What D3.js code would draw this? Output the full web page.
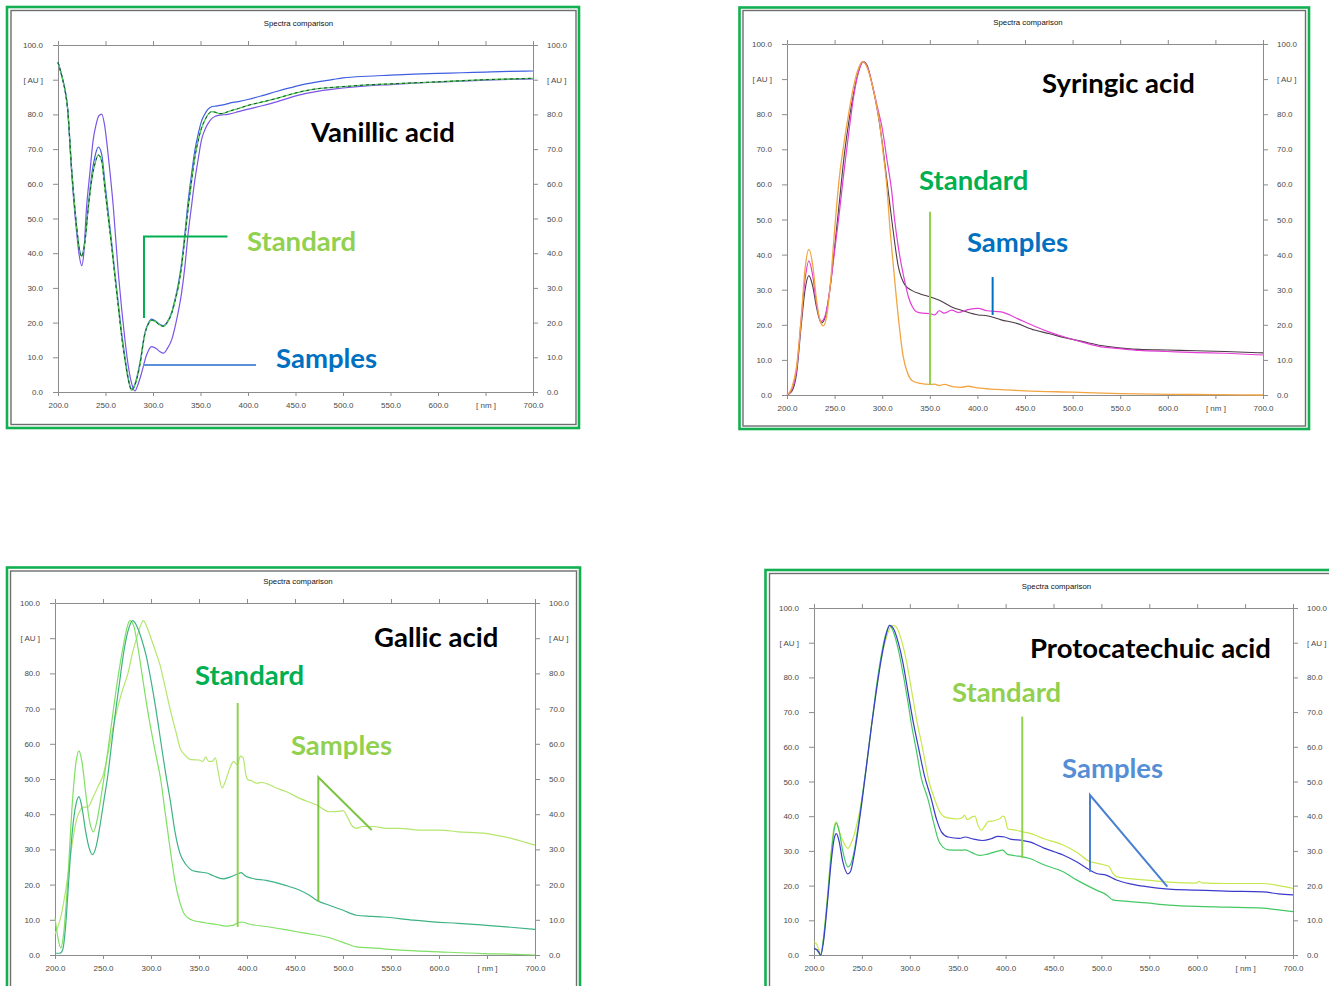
<!DOCTYPE html>
<html><head><meta charset="utf-8">
<script src="https://cdn.jsdelivr.net/npm/d3@7"></script>
<style>
html,body{margin:0;padding:0;background:#fff;overflow:hidden;}
svg{display:block;}
</style></head><body>
<svg id="chart" width="1329" height="986"></svg>
<script>
// ---------- shared tick labels ----------
const xTickValues = [200,250,300,350,400,450,500,550,600,650,700];
const yTickValues = [0,10,20,30,40,50,60,70,80,90,100];
const xUnitTick = 650, xUnitLabel = "[ nm ]";
const yUnitTick = 90,  yUnitLabel = "[ AU ]";
const chartTitle = "Spectra comparison";

// ---------- Vanillic acid ----------
const vanillicStandard = [[200,95],[205,90],[207.4,87],[210,82],[214.4,64],[219.6,47.6],[222,42],[225,39],[228,42.5],[232,53.4],[236,62],[239,65.9],[242.5,68.3],[246,66.5],[249.5,58.2],[253,50],[256.5,41.8],[260,33],[263.5,24.5],[267,16],[270.5,9.2],[274,3.5],[277.5,0.5],[281,2],[286,7.5],[291.6,16.9],[295,19.5],[298.6,20.7],[303,20.2],[307,19.3],[311,18.9],[315,20],[319.7,22.7],[323,26],[326.6,30.3],[330,36],[333.7,44.7],[337,53],[340.7,61],[344,67.5],[347.7,72.6],[351,76],[354.7,78.4],[358,80],[361.8,80.8],[366,80.6],[370,80.2],[375,80.4],[380,80.9],[390,81.7],[400,82.6],[415,83.6],[430,84.6],[445,85.8],[460,86.8],[476,87.5],[490,87.8],[500,88],[525,88.5],[550,88.8],[575,89.1],[600,89.4],[625,89.7],[650,90],[675,90.2],[700,90.4]];
const vanillicSampleBlue = [[200,95],[205,90],[207.4,87],[210,82],[214.4,64],[219.6,47.6],[222,42],[225,39.3],[228,43],[232,54],[236,63.5],[239,68],[242.5,70.6],[246,68.5],[249.5,60],[253,51.5],[256.5,43],[260,34],[263.5,25.5],[267,17],[270.5,10],[274,4],[277.5,0.8],[281,2.3],[286,8],[291.6,17.2],[295,19.8],[298.6,21],[303,20.4],[307,19.5],[311,19.1],[315,20.2],[319.7,23],[323,26.5],[326.6,31],[330,37],[333.7,46],[337,55],[340.7,63],[344,69.5],[347.7,74.5],[351,78],[354.7,80.2],[358,81.5],[361.8,82.2],[366,82.4],[370,82.6],[375,82.8],[380,83.2],[390,83.7],[400,84.3],[415,85.4],[430,86.6],[445,87.7],[460,88.7],[476,89.5],[490,90.1],[500,90.5],[525,91],[550,91.3],[575,91.6],[600,91.8],[625,92],[650,92.2],[675,92.4],[700,92.5]];
const vanillicSamplePurple = [[200,95],[205,90],[207.4,87],[210,82],[214.4,63],[219.6,46],[222,40],[225,36.4],[227,39.5],[230,53],[233.5,63],[237,72.6],[240,77],[243,79.6],[246,80.1],[249,77],[253,67.8],[258.2,53.4],[263.5,34.2],[267,24],[270.5,15],[274,7.5],[277.5,2.5],[281,0.3],[284,2],[288,5.5],[293,10.5],[298.6,13.1],[303,12.6],[307,11.7],[311,11.2],[315,12.5],[319.7,15.1],[325,21],[330,28.4],[333.5,36],[337,45.7],[340.5,53.5],[344,61],[347.5,67],[351,72.6],[354.5,75.5],[358,77.4],[361.8,78.8],[366,79.5],[370,79.8],[375,79.9],[380,80.1],[390,80.8],[400,81.5],[415,82.5],[430,83.6],[445,84.9],[460,86],[476,86.8],[490,87.3],[500,87.6],[525,88.2],[550,88.6],[575,89],[600,89.3],[625,89.6],[650,89.9],[675,90.1],[700,90.2]];

// ---------- Syringic acid ----------
const syringicStandard = [[200,0],[205,2],[210,8],[215,22],[219,36],[223,41.5],[227,37],[231,27],[235,21],[238,19.7],[242,23],[246,33],[250,47],[255,62],[260,72],[265,80.5],[270,88],[275,93],[279,95],[283,94],[288,90],[293,84],[297,78],[301,69],[305,59],[308,48],[312,36],[317,22],[322,11],[327,6],[332,4],[340,3.3],[350,3],[355,3.1],[360,2.7],[365,3],[375,2.3],[383,2.2],[390,2.5],[400,2],[420,1.6],[450,1.2],[500,0.8],[550,0.4],[600,0.2],[650,0.1],[700,0]];
const syringicSampleDark = [[200,0],[205,1],[210,6],[215,20],[219,30],[223,34],[227,31],[231,25],[236,20.5],[240,22],[245,30],[250,42],[255,55],[260,68],[265,78],[270,86],[275,92],[280,95],[284,94],[289,89],[295,81],[300,72],[305,61],[310,50],[317,36.5],[324,31.3],[331,29.8],[340,28.8],[350,28],[360,27],[373,25.1],[385,24],[401,22.8],[410,22.6],[425,21.4],[440,20.5],[460,18.5],[475,17.5],[494,16.2],[511,15.2],[530,14.1],[546,13.5],[570,13],[599,12.8],[630,12.6],[660,12.4],[700,12]];
const syringicSampleMagenta = [[200,0],[205,1.5],[210,7],[215,22],[219,33],[223,38.2],[227,34],[231,26],[236,21],[240,22.5],[245,30],[250,41],[255,52],[260,64],[265,75],[270,85],[275,92],[280,95],[285,93],[290,88],[295,82],[300,76],[305,67],[310,58],[313,50],[317,42],[320.5,36.5],[324,32],[327.5,28],[332,25],[336,23.7],[342,23.3],[350,23.2],[355,22.8],[360,24],[365,23.3],[373,24.2],[380,23.5],[390,24.3],[401,24.7],[410,24],[425,23.7],[440,22],[460,19.6],[475,18],[494,16.3],[511,15],[530,13.7],[546,13.3],[570,12.7],[599,12.4],[630,12.1],[660,11.9],[700,11.4]];

// ---------- Gallic acid ----------
const gallicSampleTop = [[200,6],[203,8],[207,12],[212,20],[217,30],[222,38],[226,41],[230,42],[234,42],[240,45],[245,48],[250,51],[255,57],[260,64],[265,70],[270,75],[276,80],[280,85],[285,90],[289,93.5],[292,95],[296,93],[300,90],[305,86],[309.4,82.4],[314,77],[319.8,70],[326.8,62.5],[330,59],[335.4,56.8],[342,55.5],[350,55.4],[354,55],[357,56.3],[360,55],[364,55],[367,56],[370,52],[374,47.5],[377,49],[382,53],[386,55],[390,54],[393,56.5],[396,56],[399,51],[401,49.8],[405,49.5],[410,48.8],[415,49],[420.5,48.7],[430,47.5],[440,46.5],[455,44.5],[472.6,42.6],[486,40.7],[495,40.8],[500,41],[505,39],[510,36.5],[514,36],[520,36.5],[531.6,36.5],[545,36],[559,36],[580,35.5],[601,35.5],[620,35],[646,34.6],[660,34],[677,33],[690,32],[700,31.2]];
const gallicStandard = [[200,0.5],[205,0.5],[208,1.5],[211,8],[214,20],[218,35],[222,43],[225,45],[228,42],[232,35],[236,30],[239,28.5],[243,31],[247,37],[251,44],[255,51],[259,60],[263,69],[267,77],[271,85],[276,92],[281,95],[286,93],[291,89],[295,85],[300,78],[305,70],[310,61],[315,52],[320,44],[325,35],[330,29],[337,25.5],[343,24],[348,23.7],[353,23.5],[358,23.3],[365,22.5],[375,21.6],[383,22.2],[390,23],[394,23.4],[398,22.5],[405,21.8],[420,21.2],[440,19.8],[455,18.4],[465,17],[473,15.5],[487,14],[500,12.7],[514,11.3],[530,11],[542,10.8],[570,10],[594,9.4],[620,9],[646,8.5],[670,8],[700,7.3]];
const gallicSampleLow = [[200,10.5],[203,5],[206,2],[209,6],[213,20],[218,43],[222,55],[225,58],[228,55],[232,46],[236,38],[240,35],[244,38.5],[248,45],[252,52],[256,60],[260,68],[264,76],[268,83],[272,89],[275,93],[278,95],[282,93.5],[286,88],[290,81],[295,72],[300,64],[305,57],[310,50],[315,40],[320,30],[325,21],[330,15],[335,11.5],[342,10],[351,9.4],[360,9],[370,8.6],[378,8.2],[386,8.5],[392,9.3],[396,9.3],[402,8.8],[420,8.1],[440,7.2],[460,6.2],[486,4.9],[500,3.6],[514,2.3],[530,2],[559,1.4],[600,0.9],[646,0.4],[680,0.2],[700,0]];

// ---------- Protocatechuic acid ----------
const protoSampleYellow = [[200,3.8],[203,3],[205,1.5],[207,0.2],[210,5],[214,17],[218,30],[221,37],[223.3,38.4],[226,36],[230,33],[235.4,30.7],[240,33],[245,38],[250,45],[255,55],[260,66],[265,76],[270,85],[275,91],[280,94.5],[283,95],[287,94],[292,90],[297,84],[302,76],[307,68],[313.6,59.2],[320,50],[325.8,45],[330,42],[335,40],[340,39.5],[350,39.2],[355,39.6],[357,40.3],[360,39],[365,39.8],[368,40],[371,37.5],[374.6,36],[378,37],[382,38.5],[388,38.7],[394,39.3],[397,40],[399,39.7],[402.5,36.3],[410,36],[418,35.5],[425,35.1],[440,33.5],[460,31.7],[475,29.5],[487.8,26.9],[495,26.5],[502,26],[508,25.5],[512,23.5],[515.7,22.6],[530,22],[547,21.6],[570,21],[599,20.7],[602,21.2],[605,20.8],[630,20.6],[668.7,20.6],[685,20],[700,19.2]];
const protoSampleBlue = [[200,1.9],[203,1.5],[205,0.8],[207,0],[210,4],[214,15],[218,27],[221,33.5],[223.3,35],[226,33],[230,27],[235.4,23.4],[238,24],[242,29],[246,36],[250,44],[255,55],[260,66],[265,76],[270,85],[275,92],[279,95],[283,94],[288,90],[293,84],[298,76],[303,68],[309.5,59.2],[315,52],[322.4,45],[328,39],[333,35.5],[340,34],[351.7,33.6],[358,34],[365,33.5],[376,33],[385,33.5],[392,34.2],[399,34],[405,33.4],[418,33],[425,32.6],[440,30.8],[460,28.8],[475,26.7],[487.8,24.5],[495,23.5],[505,23],[515.7,21.6],[530,20.5],[547,19.7],[570,19],[599,18.7],[630,18.4],[668.7,18.2],[685,17.6],[700,17.3]];
const protoStandard = [[200,1.8],[203,1.5],[205,0.6],[207,0],[210,5],[214,16],[218,29],[221,36],[223.3,38],[226,36],[230,30],[235.4,25.4],[238,26],[242,30],[246,37],[250,45],[255,55],[260,66],[265,77],[270,86],[275,92.5],[279,95],[283,93],[288,88],[293,81],[298,73],[302,66],[306.7,59.2],[312,51],[318.9,45],[325,38],[330,33],[335,31],[340,30.3],[351.7,30.2],[358,30.3],[365,29.5],[372.6,28.7],[380,29],[390,29.8],[397,30.2],[402,29],[410,28.6],[418,28.3],[425,27.8],[440,26],[460,24],[475,21.5],[494.8,18.7],[505,17.4],[512,15.9],[530,15.4],[547,15],[570,14.4],[599,14],[630,13.8],[668.7,13.5],[685,13],[700,12.5]];

// ---------- layout / styling ----------
const panels = [
  { frame:[7,7,579,428], inner:[11,10.5,576,424.5], plot:[58,45,533,392],
    series:[
      {data:vanillicSamplePurple, color:"#7A55E6", w:1.2},
      {data:vanillicSampleBlue, color:"#3F5FE0", w:1.2},
      {data:vanillicStandard, color:"#4FD24F", w:1.3},
      {data:vanillicStandard, color:"#1C4A3A", w:1, dash:"3,3"}
    ],
    leaders:[
      {pts:[[290.5,21.3],[290.5,44.8],[378.4,44.8]], color:"#00B050"},
      {pts:[[289.5,7.8],[408.4,7.8]], color:"#5B8FD8"}
    ],
    labels:[
      {t:"Vanillic acid", x:466.3, y:72.0, c:"#000"},
      {t:"Standard", x:398.9, y:40.6, c:"#92D050"},
      {t:"Samples", x:429.5, y:6.9, c:"#0070C0"}
    ]},
  { frame:[739.5,7.5,1309,429], inner:[743,10.5,1305.5,426], plot:[787,44,1263,395],
    series:[
      {data:syringicSampleDark, color:"#4B3C46", w:1.1},
      {data:syringicSampleMagenta, color:"#E33FD6", w:1.2},
      {data:syringicStandard, color:"#F2A541", w:1.3}
    ],
    leaders:[
      {pts:[[350.2,2.85],[350.2,52.2]], color:"#92D050"},
      {pts:[[416,22.8],[416,33.6]], color:"#0070C0"}
    ],
    labels:[
      {t:"Syringic acid", x:467.9, y:86.0, c:"#000"},
      {t:"Standard", x:338.7, y:58.4, c:"#00B050"},
      {t:"Samples", x:389.0, y:40.8, c:"#0070C0"}
    ]},
  { frame:[7,567.5,580,1000], inner:[10.5,571,576.5,1000], plot:[55,603,535,955],
    series:[
      {data:gallicSampleTop, color:"#B4E66E", w:1.2},
      {data:gallicSampleLow, color:"#7EE064", w:1.2},
      {data:gallicStandard, color:"#3DB384", w:1.2}
    ],
    leaders:[
      {pts:[[390.3,8.0],[390.3,71.6]], color:"#92D050"},
      {pts:[[474.3,15.1],[474.3,50.5],[529.9,35.5]], color:"#7EC443"}
    ],
    labels:[
      {t:"Gallic acid", x:532.3, y:87.6, c:"#000"},
      {t:"Standard", x:345.8, y:76.7, c:"#00B050"},
      {t:"Samples", x:445.8, y:56.8, c:"#92D050"}
    ]},
  { frame:[765.5,570,1345,1000], inner:[769.5,573.5,1345,1000], plot:[814,608,1293,955],
    series:[
      {data:protoSampleYellow, color:"#C6E84E", w:1.2},
      {data:protoStandard, color:"#45C864", w:1.2},
      {data:protoSampleBlue, color:"#3B3BCB", w:1.2}
    ],
    leaders:[
      {pts:[[417.4,27.9],[417.4,68.7]], color:"#92D050"},
      {pts:[[488.1,24.0],[488.1,46.1],[568.8,19.7]], color:"#4A80D2"}
    ],
    labels:[
      {t:"Protocatechuic acid", x:425.5, y:85.7, c:"#000"},
      {t:"Standard", x:344.0, y:72.8, c:"#92D050"},
      {t:"Samples", x:458.9, y:50.9, c:"#558ED5"}
    ]}
];

const svg = d3.select("#chart");
const axisColor = "#8c8c8c", tickTextColor = "#4a4a4a";
const fmtX = d => d === xUnitTick ? xUnitLabel : d.toFixed(1);
const fmtY = d => d === yUnitTick ? yUnitLabel : d.toFixed(1);

function styleAxis(g){
  g.select(".domain").attr("stroke", axisColor).attr("stroke-width",1);
  g.selectAll(".tick line").attr("stroke", axisColor).attr("stroke-width",1);
  g.selectAll(".tick text").attr("fill", tickTextColor)
    .style("font-family","'Liberation Sans', Arial, sans-serif").style("font-size","8px");
}

panels.forEach(p => {
  const g = svg.append("g");
  const [fx0,fy0,fx1,fy1] = p.frame, [ix0,iy0,ix1,iy1] = p.inner, [px0,py0,px1,py1] = p.plot;
  g.append("rect").attr("x",fx0).attr("y",fy0).attr("width",fx1-fx0).attr("height",fy1-fy0)
    .attr("fill","#fff").attr("stroke","#12B050").attr("stroke-width",2.6);
  g.append("rect").attr("x",ix0).attr("y",iy0).attr("width",ix1-ix0).attr("height",iy1-iy0)
    .attr("fill","#fff").attr("stroke","#6e6e6e").attr("stroke-width",1.4);

  const x = d3.scaleLinear().domain([200,700]).range([px0,px1]);
  const y = d3.scaleLinear().domain([0,100]).range([py1,py0]);

  g.append("g").attr("transform",`translate(0,${py1})`)
    .call(d3.axisBottom(x).tickValues(xTickValues).tickFormat(fmtX).tickSize(4).tickSizeOuter(0).tickPadding(6))
    .call(styleAxis);
  g.append("g").attr("transform",`translate(0,${py0})`)
    .call(d3.axisTop(x).tickValues(xTickValues).tickFormat("").tickSize(4).tickSizeOuter(0))
    .call(styleAxis);
  g.append("g").attr("transform",`translate(${px0},0)`)
    .call(d3.axisLeft(y).tickValues(yTickValues).tickFormat(fmtY).tickSize(5).tickSizeOuter(0).tickPadding(10))
    .call(styleAxis);
  g.append("g").attr("transform",`translate(${px1},0)`)
    .call(d3.axisRight(y).tickValues(yTickValues).tickFormat(fmtY).tickSize(5).tickSizeOuter(0).tickPadding(9))
    .call(styleAxis);

  g.append("text").attr("x",(px0+px1)/2+3).attr("y",py0-19).attr("text-anchor","middle")
    .attr("fill","#111").style("font-family","'Liberation Sans', Arial, sans-serif")
    .style("font-size","7.8px").text(chartTitle);

  const line = d3.line().x(d=>x(d[0])).y(d=>y(d[1])).curve(d3.curveMonotoneX);
  p.series.forEach(s => {
    g.append("path").datum(s.data).attr("d",line).attr("fill","none")
      .attr("stroke",s.color).attr("stroke-width",s.w)
      .attr("stroke-dasharray", s.dash || null).attr("stroke-linejoin","round");
  });

  const lead = d3.line().x(d=>x(d[0])).y(d=>y(d[1]));
  p.leaders.forEach(l => {
    g.append("path").datum(l.pts).attr("d",lead).attr("fill","none")
      .attr("stroke",l.color).attr("stroke-width",2);
  });
  p.labels.forEach(l => {
    g.append("text").attr("x",x(l.x)).attr("y",y(l.y)).attr("fill",l.c)
      .style("font-family","Lato, 'Open Sans', sans-serif").style("font-weight","700")
      .style("font-size","27.5px").text(l.t);
  });
});
</script>
</body></html>
